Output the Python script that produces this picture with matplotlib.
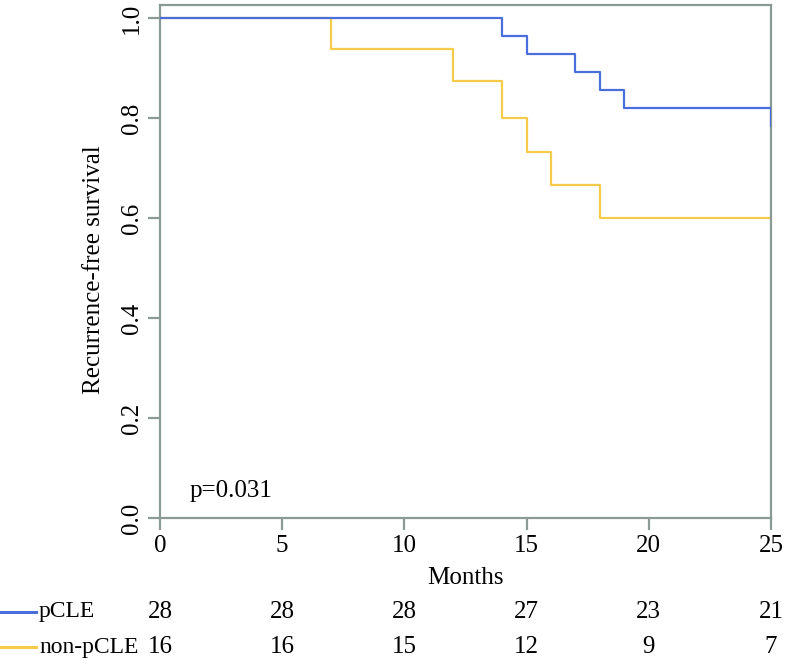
import matplotlib
matplotlib.use("Agg")
import matplotlib.pyplot as plt
from matplotlib.transforms import blended_transform_factory
from matplotlib.lines import Line2D

plt.rcParams['font.family'] = ['Liberation Serif', 'DejaVu Serif']

# Data
pcle_times = [0, 14, 15, 17, 18, 19, 25]
pcle_surv = [1.0, 0.964, 0.929, 0.893, 0.857, 0.821, 0.784]
non_times = [0, 7, 12, 14, 15, 16, 18, 25]
non_surv = [1.0, 0.9375, 0.875, 0.8, 0.733, 0.667, 0.60, 0.60]
risk_times = [0, 5, 10, 15, 20, 25]
risk_pcle = [28, 28, 28, 27, 23, 21]
risk_non = [16, 16, 15, 12, 9, 7]
groups = ["pCLE", "non-pCLE"]
xticks = [0, 5, 10, 15, 20, 25]
yticks = [0.0, 0.2, 0.4, 0.6, 0.8, 1.0]

blue = "#4a6fdc"
yellow = "#f5cc4a"
gray = "#8a9a96"
fs = 18

W, H = 786, 668
fig = plt.figure(figsize=(W / 100, H / 100), dpi=100)
ax = fig.add_axes([160 / W, 1 - 518 / H, (771 - 160) / W, (518 - 5) / H])

ax.step(pcle_times, pcle_surv, where='post', color=blue, lw=1.6, zorder=3)
ax.step(non_times, non_surv, where='post', color=yellow, lw=1.6, zorder=2)

ax.set_xlim(0, 25)
ax.set_ylim(0, 1.026)
for s in ax.spines.values():
    s.set_color(gray)
    s.set_linewidth(1.6)

ax.set_xticks(xticks)
ax.set_xticklabels([str(t) for t in xticks], fontsize=fs)
ax.set_yticks(yticks)
ax.set_yticklabels([f"{t:.1f}" for t in yticks], fontsize=fs, rotation=90, va='center')
ax.tick_params(axis='both', direction='out', length=8.5, width=1.6, color=gray)
ax.tick_params(axis='x', pad=4)
ax.tick_params(axis='y', pad=4)

ax.set_xlabel("Months", fontsize=fs)
ax.xaxis.set_label_coords(0.5, -(578 - 518) / 513)
ax.xaxis.label.set_verticalalignment('center')
ax.set_ylabel("Recurrence-free survival", fontsize=fs)
ax.yaxis.set_label_coords(-(160 - 94) / 611, (518 - 270) / 513)
ax.yaxis.label.set_verticalalignment('center')

ax.text(1.2, 0.055, "p=0.031", fontsize=fs, ha='left', va='center')

# Risk table
tr = blended_transform_factory(ax.transData, fig.transFigure)
rows_y = [1 - 612 / H, 1 - 647 / H]
for vals, yy in zip([risk_pcle, risk_non], rows_y):
    for t, v in zip(risk_times, vals):
        ax.text(t, yy, str(v), transform=tr, fontsize=fs, ha='center', va='center', clip_on=False)

for name, col, yy in zip(groups, [blue, yellow], rows_y):
    fig.add_artist(Line2D([0, 36 / W], [yy, yy], transform=fig.transFigure, color=col, lw=2.2))
    fig.text(39 / W, yy, name, fontsize=17, ha='left', va='center')

fig.savefig("out.png", dpi=100)
